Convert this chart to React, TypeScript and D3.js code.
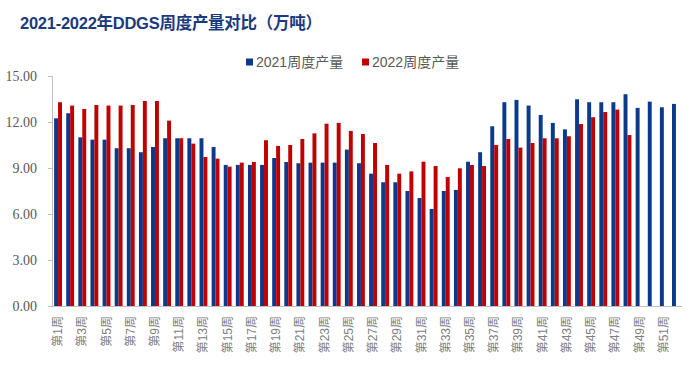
import React, { useEffect, useRef } from "react";
import * as d3 from "d3";

const weeks = d3.range(1, 53).map((w) => `第${w}周`);

const prod2021 = [
  12.24, 12.57, 11.0, 10.85, 10.85, 10.29, 10.29, 10.03, 10.37, 10.94,
  10.94, 10.94, 10.94, 10.37, 9.2, 9.2, 9.2, 9.2, 9.65, 9.39,
  9.31, 9.35, 9.35, 9.35, 10.2, 9.31, 8.63, 8.07, 8.07, 7.5,
  7.04, 6.33, 7.5, 7.57, 9.41, 10.03, 11.72, 13.29, 13.44, 13.07,
  12.46, 11.94, 11.52, 13.48, 13.29, 13.29, 13.29, 13.81, 12.92, 13.33,
  12.96, 13.18,
];

const prod2022 = [
  13.29, 13.07, 12.85, 13.11, 13.07, 13.07, 13.11, 13.37, 13.37, 12.09,
  10.94, 10.59, 9.72, 9.61, 9.09, 9.35, 9.39, 10.81, 10.44, 10.5,
  10.89, 11.26, 11.89, 11.94, 11.42, 11.22, 10.63, 9.2, 8.63, 8.78,
  9.41, 9.13, 8.41, 8.98, 9.2, 9.13, 10.5, 10.89, 10.33, 10.63,
  10.94, 10.94, 11.07, 11.87, 12.31, 12.65, 12.81, 11.15,
];

const seriesNames = ["2021周度产量", "2022周度产量"];
const seriesColors = ["#0B3A8C", "#C00000"];
const yTicks = [0, 3, 6, 9, 12, 15];

const W = 700;
const H = 374;

export default function App() {
  const svgRef = useRef<SVGSVGElement>(null);

  useEffect(() => {
    if (!svgRef.current) return;
    const svg = d3.select(svgRef.current);
    svg.selectAll("*").remove();

    const left = 52;
    const right = 682;
    const top = 76;
    const bottom = 306;

    const x = d3
      .scaleBand<string>()
      .domain(weeks)
      .range([left, right])
      .paddingInner(0.35)
      .paddingOuter(0.175);

    const x1 = d3
      .scaleBand<number>()
      .domain([0, 1])
      .range([0, x.bandwidth()]);

    const y = d3.scaleLinear().domain([0, 15]).range([bottom, top]);

    // title
    svg
      .append("text")
      .attr("x", 20)
      .attr("y", 29)
      .attr("fill", "#1B3A7E")
      .attr("font-family", "'Liberation Sans', 'Noto Sans CJK SC', sans-serif")
      .attr("font-weight", "bold")
      .attr("font-size", 16.5)
      .attr("textLength", 302)
      .attr("lengthAdjust", "spacing")
      .text("2021-2022年DDGS周度产量对比（万吨）");

    // legend
    const legendX = [246, 362];
    seriesNames.forEach((name, i) => {
      const g = svg.append("g").attr("transform", `translate(${legendX[i]},62)`);
      g.append("rect")
        .attr("x", 0)
        .attr("y", -3.5)
        .attr("width", 7)
        .attr("height", 7)
        .attr("fill", seriesColors[i]);
      g.append("text")
        .attr("x", 10)
        .attr("y", 0)
        .attr("dy", "0.36em")
        .attr("fill", "#595959")
        .attr("font-family", "'Liberation Sans', 'Noto Sans CJK SC', sans-serif")
        .attr("font-size", 14)
        .text(name);
    });

    // y axis
    const yAxis = svg.append("g");
    yAxis
      .append("line")
      .attr("x1", left + 0.5)
      .attr("x2", left + 0.5)
      .attr("y1", top)
      .attr("y2", bottom)
      .attr("stroke", "#BFBFBF");
    yAxis
      .selectAll("line.tick")
      .data(yTicks)
      .join("line")
      .attr("class", "tick")
      .attr("x1", left - 4)
      .attr("x2", left)
      .attr("y1", (d) => Math.round(y(d)) + 0.5)
      .attr("y2", (d) => Math.round(y(d)) + 0.5)
      .attr("stroke", "#BFBFBF");
    yAxis
      .selectAll("text")
      .data(yTicks)
      .join("text")
      .attr("x", 37)
      .attr("y", (d) => y(d))
      .attr("dy", "0.36em")
      .attr("text-anchor", "end")
      .attr("fill", "#595959")
      .attr("font-family", "'Liberation Serif', serif")
      .attr("font-size", 14)
      .text((d) => d3.format(".2f")(d));

    // bars
    const series = [prod2021, prod2022];
    series.forEach((vals, si) => {
      svg
        .append("g")
        .selectAll("rect")
        .data(vals)
        .join("rect")
        .attr("x", (_, i) => x(weeks[i])! + x1(si)!)
        .attr("y", (d) => y(d))
        .attr("width", x1.bandwidth())
        .attr("height", (d) => y(0) - y(d))
        .attr("fill", seriesColors[si]);
    });

    // x axis
    svg
      .append("line")
      .attr("x1", left)
      .attr("x2", right)
      .attr("y1", bottom + 0.5)
      .attr("y2", bottom + 0.5)
      .attr("stroke", "#BFBFBF");

    svg
      .append("g")
      .selectAll("text")
      .data(weeks.filter((_, i) => i % 2 === 0))
      .join("text")
      .attr(
        "transform",
        (d) => `translate(${x(d)! + x.bandwidth() / 2 + 4},316) rotate(-90)`
      )
      .attr("text-anchor", "end")
      .attr("fill", "#7F7F7F")
      .attr("font-family", "'Liberation Sans', 'Noto Sans CJK SC', sans-serif")
      .attr("font-size", 12)
      .text((d) => d);
  }, []);

  return (
    <svg
      ref={svgRef}
      width={W}
      height={H}
      style={{ position: "absolute", left: 0, top: 0, background: "#fff" }}
    />
  );
}
